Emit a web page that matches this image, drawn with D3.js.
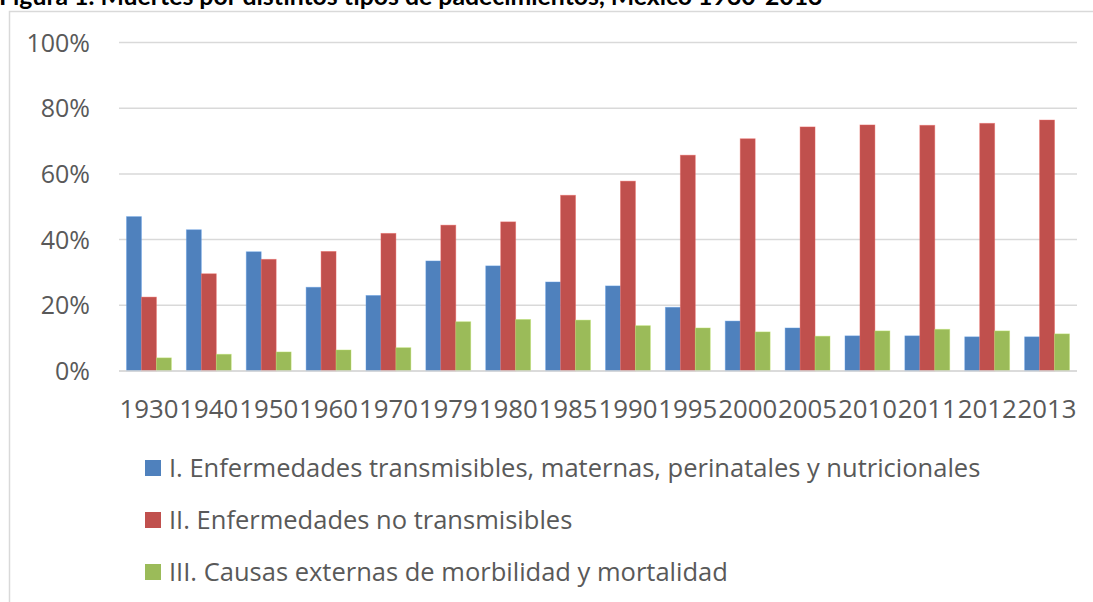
<!DOCTYPE html>
<html>
<head>
<meta charset="utf-8">
<script src="https://cdn.jsdelivr.net/npm/d3@7"></script>
<style>
  body { margin: 0; background: #fff; }
  svg text { font-family: "Open Sans", sans-serif; }
</style>
</head>
<body>
<svg id="chart" width="1093" height="602"></svg>
<script>
const years = ["1930", "1940", "1950", "1960", "1970", "1979", "1980", "1985", "1990", "1995", "2000", "2005", "2010", "2011", "2012", "2013"];
const transmisibles = [47.0, 43.0, 36.3, 25.5, 23.0, 33.5, 32.0, 27.1, 25.9, 19.4, 15.2, 13.1, 10.7, 10.7, 10.4, 10.4];
const noTransmisibles = [22.5, 29.6, 34.0, 36.4, 41.9, 44.4, 45.4, 53.5, 57.8, 65.7, 70.7, 74.3, 74.9, 74.8, 75.4, 76.4];
const externas = [4.0, 5.1, 5.8, 6.4, 7.1, 15.0, 15.7, 15.5, 13.8, 13.1, 11.9, 10.6, 12.2, 12.7, 12.2, 11.3];
const seriesNames = [
    "I. Enfermedades transmisibles, maternas, perinatales y nutricionales",
    "II. Enfermedades no transmisibles",
    "III. Causas externas de morbilidad y mortalidad"
];
const yTicks = [0, 20, 40, 60, 80, 100];

const colors = ["#4F81BD", "#C0504D", "#9BBB59"];
const seriesValues = [transmisibles, noTransmisibles, externas];

const svg = d3.select("#chart");

// Title (cut off at the top in the original)
svg.append("text")
    .attr("x", -1)
    .attr("y", 5)
    .style("font-family", "Lato, sans-serif")
    .style("font-weight", "bold")
    .style("font-size", "24.8px")
    .attr("fill", "#000")
    .text("Figura 1. Muertes por distintos tipos de padecimientos, México 1930-2013");

// chart border
svg.append("rect")
    .attr("x", 9.5)
    .attr("y", 11.5)
    .attr("width", 1200)
    .attr("height", 700)
    .attr("fill", "none")
    .attr("stroke", "#d9d9d9")
    .attr("stroke-width", 1.5);

const plot = { left: 119, right: 1077, top: 42.5, bottom: 371 };

const x = d3.scaleBand()
    .domain(years)
    .range([plot.left, plot.right]);

const inner = d3.scaleBand()
    .domain([0, 1, 2])
    .range([x.bandwidth() * 0.125, x.bandwidth() * 0.875]);

const y = d3.scaleLinear()
    .domain([0, 100])
    .range([plot.bottom, plot.top]);

// gridlines
svg.append("g")
    .selectAll("line")
    .data(yTicks)
    .join("line")
    .attr("x1", plot.left)
    .attr("x2", plot.right)
    .attr("y1", d => y(d))
    .attr("y2", d => y(d))
    .attr("stroke", "#d9d9d9")
    .attr("stroke-width", 1.5);

// y labels
svg.append("g")
    .selectAll("text")
    .data(yTicks)
    .join("text")
    .attr("x", 90)
    .attr("y", d => y(d))
    .attr("dy", "0.36em")
    .attr("text-anchor", "end")
    .attr("fill", "#595959")
    .style("font-size", "25px")
    .text(d => d + "%");

// bars
seriesValues.forEach((vals, s) => {
    svg.append("g")
        .selectAll("rect")
        .data(vals)
        .join("rect")
        .attr("x", (d, i) => x(years[i]) + inner(s))
        .attr("y", d => y(d))
        .attr("width", inner.bandwidth())
        .attr("height", d => y(0) - y(d))
        .attr("fill", colors[s])
        .attr("stroke", d3.color(colors[s]).brighter(0.6))
        .attr("stroke-opacity", 0.5)
        .attr("stroke-width", 0.8);
});

// baseline
svg.append("line")
    .attr("x1", plot.left)
    .attr("x2", plot.right)
    .attr("y1", y(0))
    .attr("y2", y(0))
    .attr("stroke", "#d9d9d9")
    .attr("stroke-width", 1.5);

// x labels
svg.append("g")
    .selectAll("text")
    .data(years)
    .join("text")
    .attr("x", d => x(d) + x.bandwidth() / 2)
    .attr("y", 418)
    .attr("text-anchor", "middle")
    .attr("fill", "#595959")
    .style("font-size", "25.8px")
    .text(d => d);

// legend
const legend = svg.append("g");
const legendY = [468, 520, 572];
seriesNames.forEach((name, i) => {
    legend.append("rect")
        .attr("x", 145)
        .attr("y", legendY[i] - 8)
        .attr("width", 16)
        .attr("height", 16)
        .attr("fill", colors[i]);
    legend.append("text")
        .attr("x", 169)
        .attr("y", legendY[i])
        .attr("dy", "0.36em")
        .attr("fill", "#595959")
        .style("font-size", "25.5px")
        .text(name);
});
</script>
</body>
</html>
